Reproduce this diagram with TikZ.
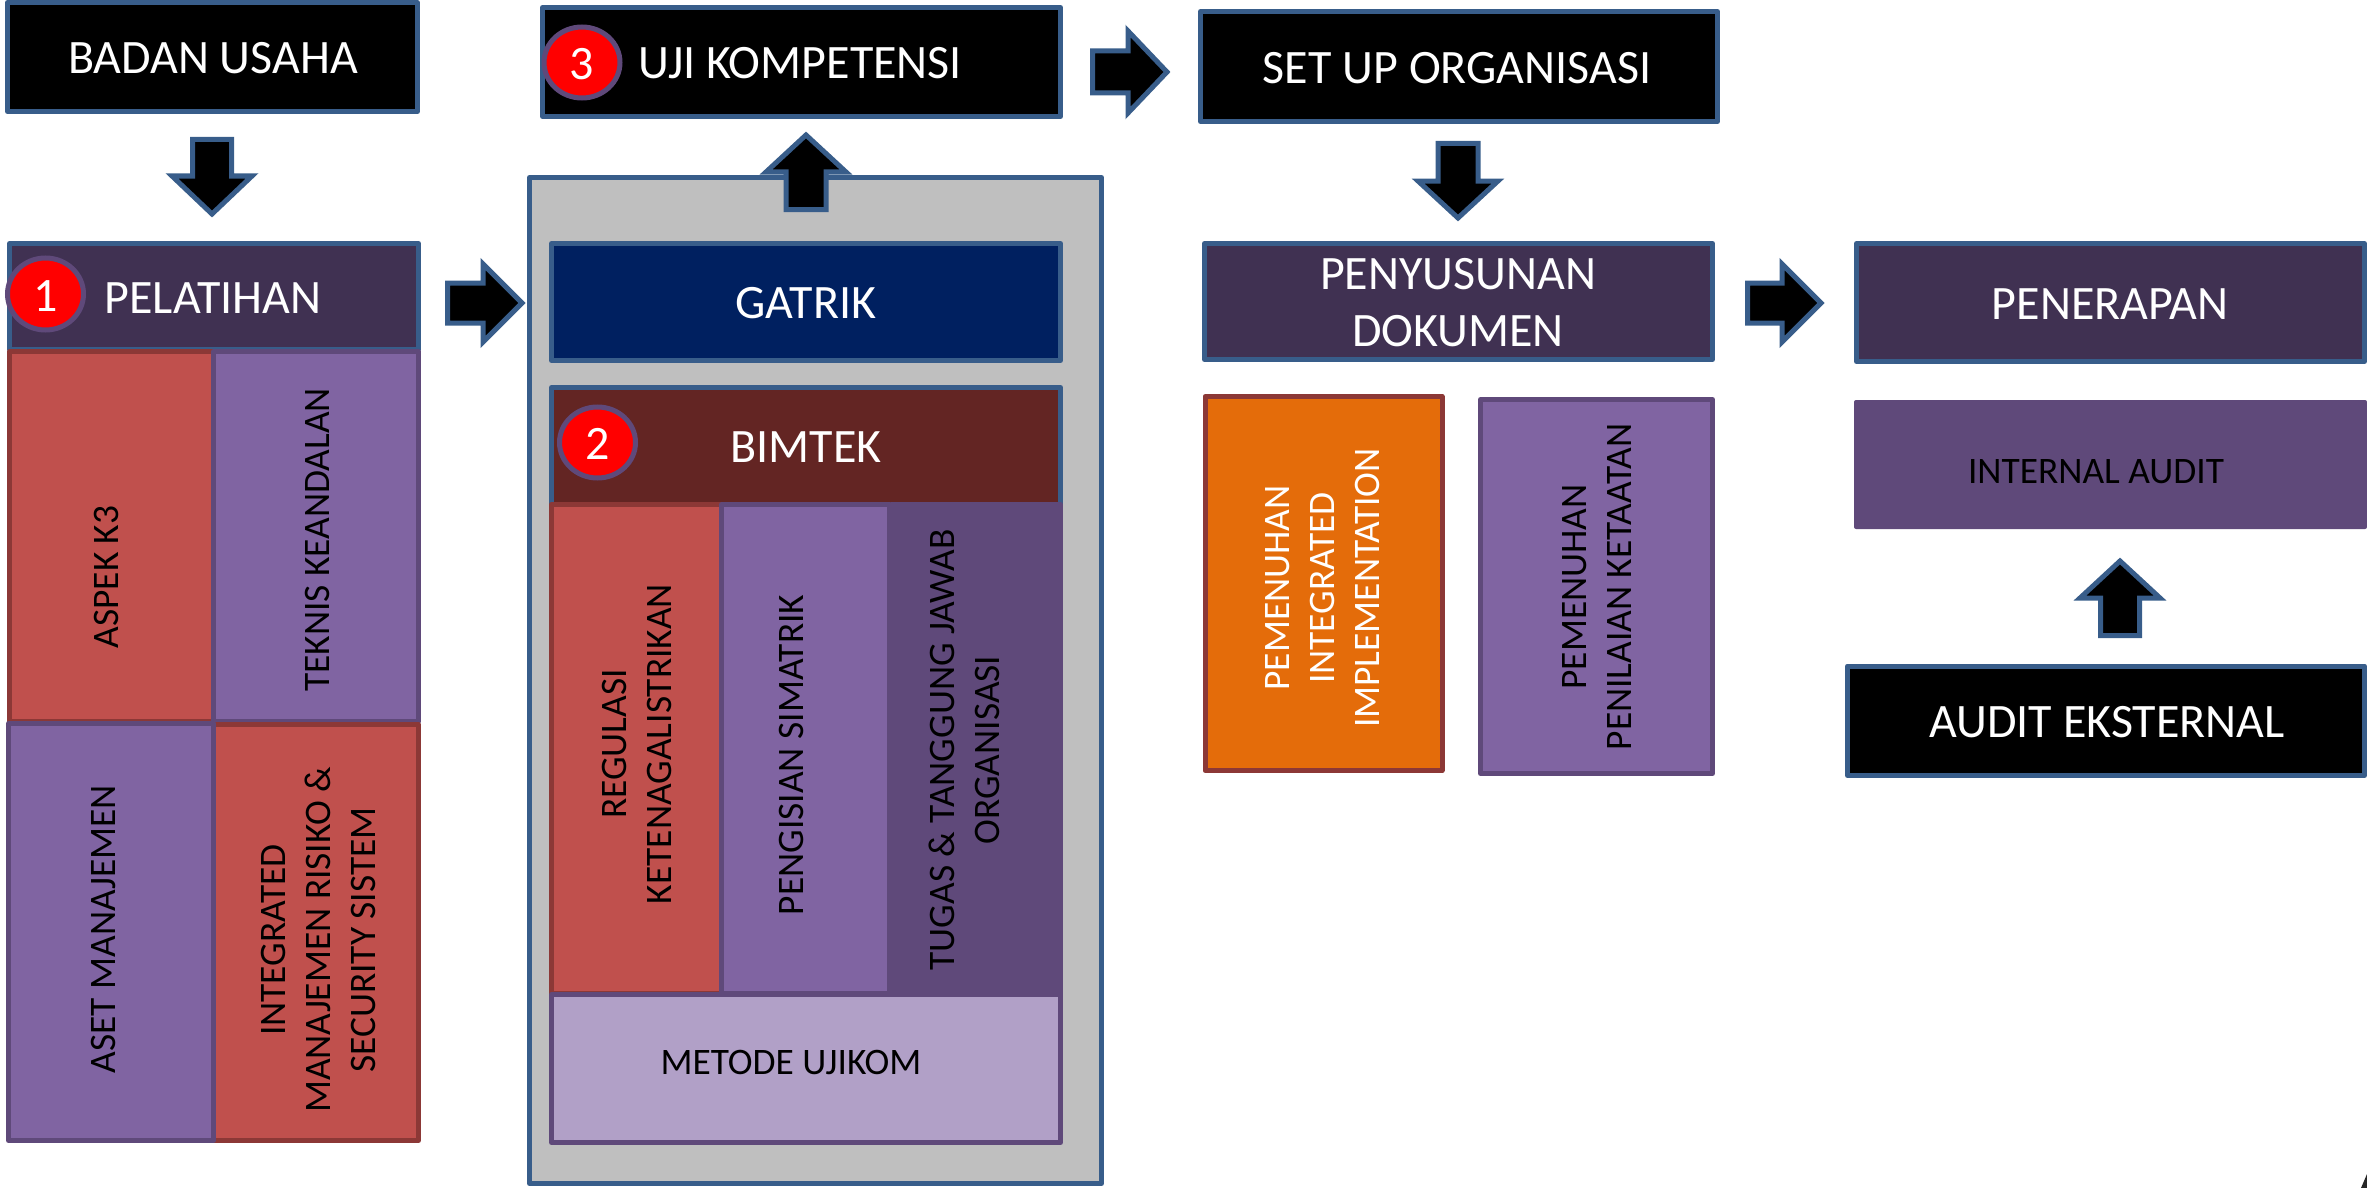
\documentclass[tikz,border=0pt]{standalone}
\usepackage{fontspec}
\setmainfont{Carlito}
\definecolor{edgeblue}{HTML}{385D8A}
\definecolor{darkpurple}{HTML}{403152}
\definecolor{navy}{HTML}{002060}
\definecolor{maroon}{HTML}{632523}
\definecolor{redfill}{HTML}{C0504D}
\definecolor{rededge}{HTML}{8C3836}
\definecolor{purplefill}{HTML}{8064A2}
\definecolor{purpleedge}{HTML}{5F497A}
\definecolor{lilac}{HTML}{B1A0C7}
\definecolor{grayfill}{HTML}{BFBFBF}
\definecolor{orangefill}{HTML}{E46C0A}
\tikzset{
  panel/.style={line width=2.5pt,line join=round},
  blackbox/.style={panel,draw=edgeblue,fill=black},
  darkbox/.style={panel,draw=edgeblue,fill=darkpurple},
  navybox/.style={panel,draw=edgeblue,fill=navy},
  maroonbox/.style={panel,draw=edgeblue,fill=maroon},
  graybox/.style={panel,draw=edgeblue,fill=grayfill},
  redbox/.style={panel,draw=rededge,fill=redfill},
  purplebox/.style={panel,draw=purpleedge,fill=purplefill},
  deepbox/.style={panel,draw=purpleedge,fill=purpleedge},
  lilacbox/.style={panel,draw=purpleedge,fill=lilac},
  orangebox/.style={panel,draw=rededge,fill=orangefill},
  blockarrow/.style={line width=2.5pt,draw=edgeblue,fill=black,miter limit=10},
  badge/.style={line width=2.5pt,draw=purpleedge,fill=red},
  bigw/.style={text=white,font=\fontsize{24}{28.5}\selectfont,align=center,inner sep=0pt},
  smallk/.style={text=black,font=\fontsize{18.7}{22.5}\selectfont,align=center,inner sep=0pt},
  smallw/.style={text=white,font=\fontsize{18.7}{22.5}\selectfont,align=center,inner sep=0pt},
}
\newcommand{\panelbox}[5]{\path[#1] ({#2+2.5},{#3+2.5}) rectangle ({#4-2.5},{#5-2.5});}
\newcommand{\arrowdown}[6]{% cx top headY tip halfhead halfshaft
  \path[blockarrow] ({#1-#6},#2) -- ({#1+#6},#2) -- ({#1+#6},#3) -- ({#1+#5},#3) -- (#1,#4) -- ({#1-#5},#3) -- ({#1-#6},#3) -- cycle;}
\newcommand{\arrowright}[6]{% cy left headX tip halfhead halfshaft
  \path[blockarrow] (#2,{#1-#6}) -- (#2,{#1+#6}) -- (#3,{#1+#6}) -- (#3,{#1+#5}) -- (#4,#1) -- (#3,{#1-#5}) -- (#3,{#1-#6}) -- cycle;}
\begin{document}
\begin{tikzpicture}[x=0.5pt,y=-0.5pt]
\useasboundingbox (0,0) rectangle (2367,1188);
\clip (0,0) rectangle (2367,1188);

% left column
\panelbox{blackbox}{5}{0}{420}{114}
\node[bigw] (badan) at (213,58) {BADAN USAHA};
\arrowdown{212}{139.5}{176}{214}{40}{19.5}
\panelbox{darkbox}{7}{241}{421}{352}
\panelbox{redbox}{7}{349}{216}{724}
\panelbox{purplebox}{211}{349}{421}{724}
\panelbox{redbox}{211}{722}{421}{1143}
\panelbox{purplebox}{6}{721}{216}{1143}
\path[badge] (45.5,294) ellipse [x radius=38,y radius=36];
\node[bigw] (num1) at (45.5,296) {1};
\node[bigw] (pelatihan) at (213,298) {PELATIHAN};
\node[smallk,rotate=90] (aspek) at (106,577) {ASPEK K3};
\node[smallk,rotate=90] (teknis) at (317,540) {TEKNIS KEANDALAN};
\node[smallk,rotate=90] (aset) at (103,929) {ASET MANAJEMEN};
\node[smallk,rotate=90] (integ) at (318,940) {INTEGRATED\\MANAJEMEN RISIKO \&\\SECURITY SISTEM};
\arrowright{303}{447.5}{483}{522}{39}{20}

% middle column
\panelbox{graybox}{527}{175}{1104}{1186}
\panelbox{blackbox}{540}{5}{1063}{119}
\path[badge] (582,62.5) ellipse [x radius=38,y radius=35.5];
\node[bigw] (num3) at (582,64) {3};
\node[bigw] (uji) at (800,63) {UJI KOMPETENSI};
\path[blockarrow] (786,209.5) -- (826,209.5) -- (826,172) -- (846,172) -- (806,135) -- (766,172) -- (786,172) -- cycle;
\panelbox{navybox}{549}{241}{1063}{363}
\node[bigw] (gatrik) at (806,303) {GATRIK};
\panelbox{maroonbox}{549}{385}{1063}{510}
\path[badge] (597.5,442.5) ellipse [x radius=38,y radius=35.5];
\node[bigw] (num2) at (597.5,444) {2};
\node[bigw] (bimtek) at (806,447) {BIMTEK};
\panelbox{redbox}{549}{502}{724}{996}
\panelbox{purplebox}{719}{502}{892}{996}
\panelbox{deepbox}{889}{502}{1063}{996}
\panelbox{lilacbox}{549}{992}{1063}{1145}
\node[smallk,rotate=90] (regulasi) at (637,744) {REGULASI\\KETENAGALISTRIKAN};
\node[smallk,rotate=90] (pengisian) at (791,755) {PENGISIAN SIMATRIK};
\node[smallk,rotate=90] (tugas) at (964,750) {TUGAS \& TANGGUNG JAWAB\\ORGANISASI};
\node[smallk] (metode) at (791,1062) {METODE UJIKOM};
\arrowright{72}{1092.5}{1128}{1167}{41}{21}

% third column
\panelbox{blackbox}{1198}{9}{1720}{124}
\node[bigw] (setup) at (1457,68) {SET UP ORGANISASI};
\arrowdown{1458}{143.5}{181}{218}{40}{20}
\panelbox{darkbox}{1202}{241}{1715}{362}
\node[bigw] (penyusunan) at (1458,302.5) {PENYUSUNAN\\DOKUMEN};
\panelbox{orangebox}{1202.5}{394}{1444.5}{773}
\node[smallw,rotate=90] (integimpl) at (1323,588) {PEMENUHAN\\INTEGRATED\\IMPLEMENTATION};
\panelbox{purplebox}{1478}{397}{1715}{776}
\node[smallk,rotate=90] (penilaian) at (1597,587) {PEMENUHAN\\PENILAIAN KETAATAN};
\arrowright{303}{1747.5}{1782}{1821}{39}{20}

% right column
\panelbox{darkbox}{1854}{241}{2367}{364}
\node[bigw] (penerapan) at (2110,304) {PENERAPAN};
\path[panel,fill=purpleedge,rounded corners=1pt] (1854,400) rectangle (2367,529);
\node[smallk] (internal) at (2096,472) {INTERNAL AUDIT};
\path[blockarrow] (2100.5,635.5) -- (2139.5,635.5) -- (2139.5,598) -- (2160,598) -- (2120,561) -- (2080,598) -- (2100.5,598) -- cycle;
\panelbox{blackbox}{1845}{663.5}{2367}{778}
\node[bigw] (eksternal) at (2107,722) {AUDIT EKSTERNAL};

% cut-off mark in the corner
\fill[black!85] (2367,1174) -- (2361,1188) -- (2367,1188) -- cycle;
\end{tikzpicture}
\end{document}
